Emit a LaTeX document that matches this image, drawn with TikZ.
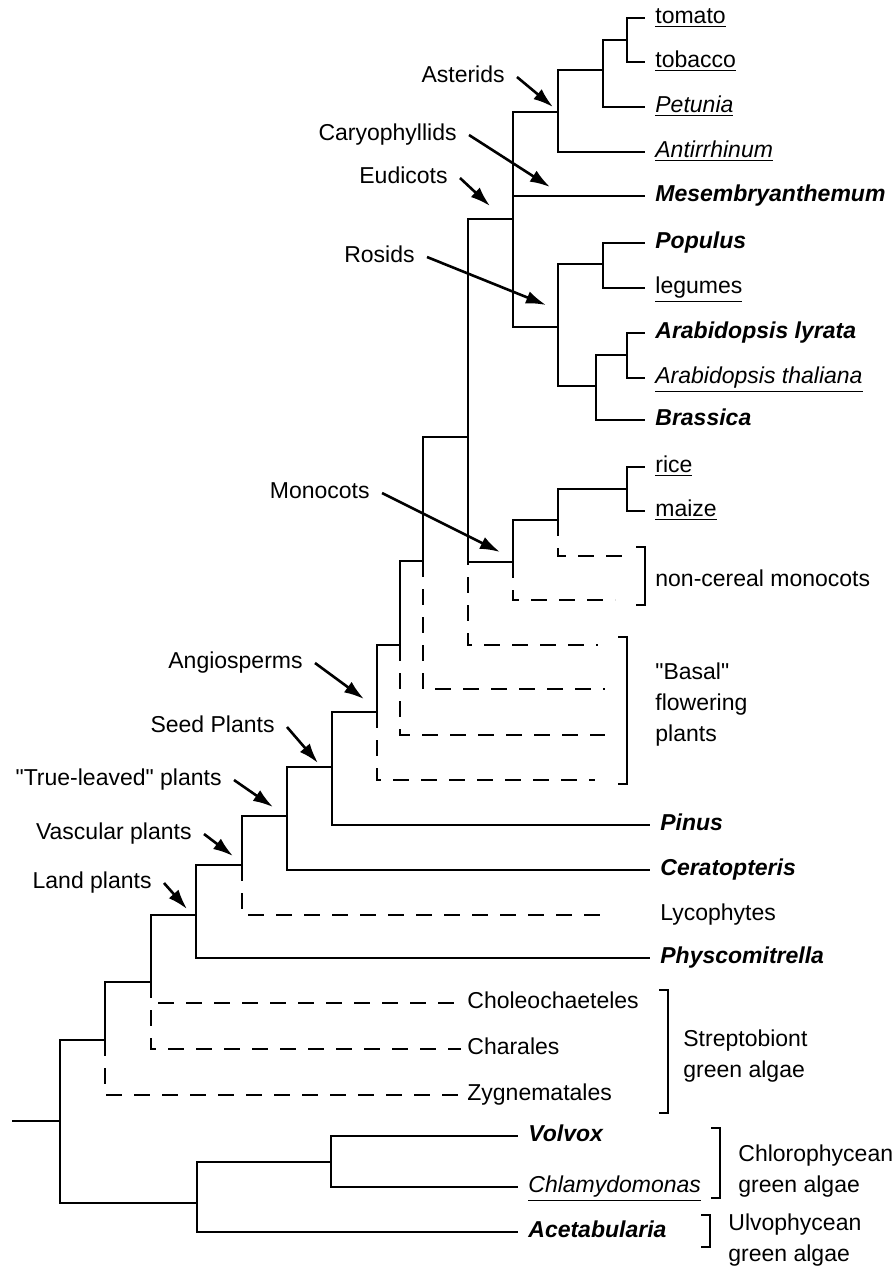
\documentclass[tikz,border=0pt]{standalone}
\usepackage{fontspec}
\setmainfont{Liberation Sans}[Ligatures=TeXOff]
\usetikzlibrary{arrows.meta}

\newcommand{\bi}[1]{\textbf{\textit{#1}}}
\newcommand{\ulit}[1]{\underline{\textit{#1}}}

\tikzset{
  branch/.style={line width=0.8pt},
  lost/.style={line width=0.8pt, dash pattern=on 8pt off 6pt},
  taxon/.style={anchor=west, inner xsep=5pt, inner ysep=0pt, text height=1.5ex, text depth=0.4ex},
  clade/.style={anchor=east, inner xsep=6pt, inner ysep=0pt, text height=1.5ex, text depth=0.4ex},
  pointer/.style={line width=1.3pt, -{Latex[length=10pt,width=6.5pt]}},
  bracket/.style={line width=1pt},
  group/.style={anchor=west, align=left, inner sep=0pt}
}

\begin{document}
\begin{tikzpicture}[x=0.5pt, y=-0.5pt, every node/.style={font=\fontsize{11.5}{15.5}\selectfont}]
\useasboundingbox (0,0) rectangle (895,1269);

% internal nodes of the tree
\coordinate (root)   at (12,1121);
\coordinate (viridi) at (60,1121);
\coordinate (strepto) at (105,1040);
\coordinate (charo)  at (151,982);
\coordinate (land)   at (196,915);
\coordinate (vasc)   at (242,865);
\coordinate (euphyl) at (287,816);
\coordinate (seed)   at (332,767);
\coordinate (angio)  at (377,712);
\coordinate (ang1)   at (400,645);
\coordinate (ang2)   at (423,561);
\coordinate (mesang) at (468,437);
\coordinate (eudi)   at (513,219);
\coordinate (aster)  at (558,112);
\coordinate (solan)  at (603,70);
\coordinate (tomtob) at (627,40);
\coordinate (rosid)  at (558,327);
\coordinate (fabid)  at (603,264);
\coordinate (brass)  at (596,386);
\coordinate (arab)   at (627,355);
\coordinate (mono)   at (513,562);
\coordinate (poales) at (558,520);
\coordinate (cereal) at (627,489);
\coordinate (chloro) at (197,1203);
\coordinate (volvo)  at (331,1162);

% free ends of the dashed lineages
\coordinate (nc1)  at (628,556);
\coordinate (nc2)  at (615,600);
\coordinate (bas1) at (598,645);
\coordinate (bas2) at (605,689);
\coordinate (bas3) at (605,735);
\coordinate (bas4) at (595,780);
\coordinate (lycend) at (602,915);

% taxa
\node[taxon] (tomato)   at (645,18)  {\underline{tomato}};
\node[taxon] (tobacco)  at (645,62)  {\underline{tobacco}};
\node[taxon] (petunia)  at (645,107) {\ulit{Petunia}};
\node[taxon] (antirr)   at (645,152) {\ulit{Antirrhinum}};
\node[taxon] (mesemb)   at (645,196) {\bi{Mesembryanthemum}};
\node[taxon] (populus)  at (645,243) {\bi{Populus}};
\node[taxon] (legumes)  at (645,288) {\underline{legumes}};
\node[taxon] (lyrata)   at (645,333) {\bi{Arabidopsis lyrata}};
\node[taxon] (thaliana) at (645,378) {\ulit{Arabidopsis thaliana}};
\node[taxon] (brassica) at (645,420) {\bi{Brassica}};
\node[taxon] (rice)     at (645,467) {\underline{rice}};
\node[taxon] (maize)    at (645,511) {\underline{maize}};
\node[taxon] (pinus)    at (650,825) {\bi{Pinus}};
\node[taxon] (cerat)    at (650,870) {\bi{Ceratopteris}};
\node[taxon] (lyco)     at (650,915) {Lycophytes};
\node[taxon] (physco)   at (650,958) {\bi{Physcomitrella}};
\node[taxon, inner xsep=3pt] (chol)  at (461,1003) {Choleochaeteles};
\node[taxon, inner xsep=3pt] (chara) at (461,1049) {Charales};
\node[taxon, inner xsep=3pt] (zyg)   at (461,1095) {Zygnematales};
\node[taxon] (volvox)   at (518,1136) {\bi{Volvox}};
\node[taxon] (chlamy)   at (518,1187) {\ulit{Chlamydomonas}};
\node[taxon] (acetab)   at (518,1232) {\bi{Acetabularia}};

% branches
\draw[branch] (root) -- (viridi);
\draw[branch] (viridi) |- (strepto);
\draw[branch] (viridi) |- (chloro);
\draw[branch] (chloro) |- (volvo);
\draw[branch] (chloro) |- (acetab.west);
\draw[branch] (volvo) |- (volvox.west);
\draw[branch] (volvo) |- (chlamy.west);
\draw[branch] (strepto) |- (charo);
\draw[lost]   (strepto) |- (zyg.west);
\draw[branch] (charo) |- (land);
\draw[lost]   (charo) |- (chol.west);
\draw[lost]   (charo) |- (chara.west);
\draw[branch] (land) |- (vasc);
\draw[branch] (land) |- (physco.west);
\draw[branch] (vasc) |- (euphyl);
\draw[lost]   (vasc) |- (lycend);
\draw[branch] (euphyl) |- (seed);
\draw[branch] (euphyl) |- (cerat.west);
\draw[branch] (seed) |- (angio);
\draw[branch] (seed) |- (pinus.west);
\draw[branch] (angio) |- (ang1);
\draw[lost]   (angio) |- (bas4);
\draw[branch] (ang1) |- (ang2);
\draw[lost]   (ang1) |- (bas3);
\draw[branch] (ang2) |- (mesang);
\draw[lost]   (ang2) |- (bas2);
\draw[branch] (mesang) |- (eudi);
\draw[branch] (mesang) |- (mono);
\draw[lost]   (mesang) |- (bas1);
\draw[branch] (mono) |- (poales);
\draw[lost]   (mono) |- (nc2);
\draw[branch] (poales) |- (cereal);
\draw[lost]   (poales) |- (nc1);
\draw[branch] (cereal) |- (rice.west);
\draw[branch] (cereal) |- (maize.west);
\draw[branch] (eudi) |- (aster);
\draw[branch] (eudi) |- (mesemb.west);
\draw[branch] (eudi) |- (rosid);
\draw[branch] (aster) |- (solan);
\draw[branch] (aster) |- (antirr.west);
\draw[branch] (solan) |- (tomtob);
\draw[branch] (solan) |- (petunia.west);
\draw[branch] (tomtob) |- (tomato.west);
\draw[branch] (tomtob) |- (tobacco.west);
\draw[branch] (rosid) |- (fabid);
\draw[branch] (rosid) |- (brass);
\draw[branch] (fabid) |- (populus.west);
\draw[branch] (fabid) |- (legumes.west);
\draw[branch] (brass) |- (arab);
\draw[branch] (brass) |- (brassica.west);
\draw[branch] (arab) |- (lyrata.west);
\draw[branch] (arab) |- (thaliana.west);

% clade names with their arrows
\node[clade] (asterlbl) at (517,77)  {Asterids};
\node[clade] (caryolbl) at (469,135) {Caryophyllids};
\node[clade] (eudilbl)  at (460,178) {Eudicots};
\node[clade] (rosidlbl) at (427,257) {Rosids};
\node[clade] (monolbl)  at (382,493) {Monocots};
\node[clade] (angiolbl) at (315,663) {Angiosperms};
\node[clade] (seedlbl)  at (287,727) {Seed Plants};
\node[clade] (truelbl)  at (234,780) {"True-leaved" plants};
\node[clade] (vasclbl)  at (204,834) {Vascular plants};
\node[clade] (landlbl)  at (164,883) {Land plants};

\coordinate (astertip) at (553,107);
\coordinate (caryotip) at (550,187);
\coordinate (euditip)  at (490,206);
\coordinate (rosidtip) at (546,305);
\coordinate (monotip)  at (500,552);
\coordinate (angiotip) at (364,699);
\coordinate (seedtip)  at (318,763);
\coordinate (truetip)  at (273,807);
\coordinate (vasctip)  at (233,856);
\coordinate (landtip)  at (187,909);

\foreach \c in {aster,caryo,eudi,rosid,mono,angio,seed,true,vasc,land}
  \draw[pointer] (\c lbl.east) -- (\c tip);

% groups
\node[group] (noncer) at (655,578)  {non-cereal monocots};
\node[group] (basal)  at (655,705)  {"Basal"\\flowering\\plants};
\node[group] (strlbl) at (683,1056) {Streptobiont\\green algae};
\node[group] (chllbl) at (738,1171) {Chlorophycean\\green algae};
\node[group] (ulvlbl) at (728,1240) {Ulvophycean\\green algae};

\foreach \x/\ya/\yb in {645/547/605, 627/637/784, 668/990/1113, 720/1128/1198, 710/1215/1247}
  \draw[bracket] (\x-9,\ya) -| (\x,\yb) -- ++(-9,0);
\end{tikzpicture}
\end{document}
